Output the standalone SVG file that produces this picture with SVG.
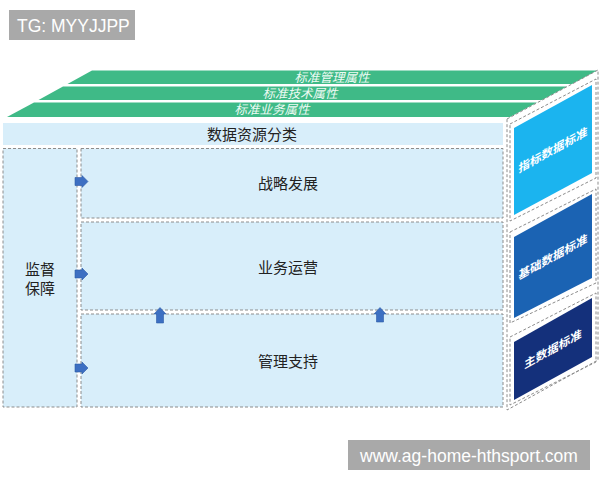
<svg xmlns="http://www.w3.org/2000/svg" width="600" height="480" viewBox="0 0 600 480">
<defs>
<style>
.dash{fill:none;stroke:#8c8c8c;stroke-width:1;stroke-dasharray:3 2}
.box{fill:#d8eefa;stroke:#8c8c8c;stroke-width:1;stroke-dasharray:3 2}
.band{fill:#3fba87}
.bt{font-family:"Noto Sans CJK SC","Noto Sans",sans-serif;font-size:12.5px;fill:#eefaf4;font-style:italic;text-anchor:middle}
.lbl{font-family:"Noto Sans CJK SC","Noto Sans",sans-serif;font-size:15px;fill:#222222;text-anchor:middle}
.st{font-family:"Noto Sans CJK SC","Noto Sans",sans-serif;font-size:11.5px;font-weight:bold;fill:#ffffff;text-anchor:middle}
.arr{fill:#3d6fc2;stroke:#2d5aa6;stroke-width:0.6}
.wm{font-family:"Liberation Sans",Arial,sans-serif;fill:#ffffff}
</style>
</defs>
<rect width="600" height="480" fill="#ffffff"/>

<g id="tg">
<rect x="9" y="10" width="126" height="30" fill="#a9a9a9"/>
<text class="wm" x="17" y="31.5" font-size="17.5">TG: MYYJJPP</text>
</g>

<g id="bands">
<polygon class="band" points="92,70.5 597,70.5 572,84 67.5,84"/>
<text class="bt" x="332" y="81.5">标准管理属性</text>
<polygon class="band" points="63,86.5 567,86.5 542,100 38.5,100"/>
<text class="bt" x="300" y="97.5">标准技术属性</text>
<polygon class="band" points="34,102.5 537,102.5 510,117 7,117"/>
<text class="bt" x="272" y="114">标准业务属性</text>
</g>

<g id="classify">
<rect x="3" y="123" width="500" height="22" fill="#d8eefa"/>
<text class="lbl" x="252" y="139.5">数据资源分类</text>
</g>

<g id="supervise">
<rect class="box" x="3" y="148.5" width="74" height="258.5"/>
<text class="lbl" x="40" y="275">监督</text>
<text class="lbl" x="40" y="294">保障</text>
</g>

<g id="strategy">
<rect class="box" x="81" y="148.5" width="422" height="69.5"/>
<text class="lbl" x="288" y="189">战略发展</text>
</g>

<g id="operation">
<rect class="box" x="81" y="222" width="422" height="88"/>
<text class="lbl" x="288" y="273">业务运营</text>
</g>

<g id="management">
<rect class="box" x="81" y="314" width="422" height="93"/>
<text class="lbl" x="288" y="367">管理支持</text>
</g>

<g id="side">
<polygon points="507,119 598,70 598,360 507,410" fill="#ffffff" class="dash"/>
</g>

<g id="indicator">
<polygon class="dash" points="510,124 596,79 596,178 510,221"/>
<polygon points="514,128 592,85 592,173 514,215" fill="#1bb4ef"/>
<text class="st" transform="translate(553,154) skewY(-29)">指标数据标准</text>
</g>

<g id="basic">
<polygon class="dash" points="510,232 596,189 596,283 510,323"/>
<polygon points="514,237 592,194 592,278 514,318" fill="#1b63b3"/>
<text class="st" transform="translate(553,261) skewY(-29)">基础数据标准</text>
</g>

<g id="master">
<polygon class="dash" points="510,337 596,293 596,362 510,405"/>
<polygon points="514,342 592,298 592,357 514,400" fill="#14307b"/>
<text class="st" transform="translate(553,353) skewY(-29)">主数据标准</text>
</g>

<g id="connectors">
<polygon class="arr" points="75,177.5 82,177.5 82,175.5 88,181.5 82,187.5 82,185.5 75,185.5"/>
<polygon class="arr" points="75,270 82,270 82,268 88,274 82,280 82,278 75,278"/>
<polygon class="arr" points="75,364 82,364 82,362 88,368 82,374 82,372 75,372"/>
<polygon class="arr" points="160,307.5 166,314 163.5,314 163.5,323 156.5,323 156.5,314 154,314"/>
<polygon class="arr" points="380,307.5 386,314 383.5,314 383.5,322 376.5,322 376.5,314 374,314"/>
</g>

<g id="watermark">
<rect x="348" y="440" width="242" height="30" fill="#a9a9a9"/>
<text class="wm" x="469" y="461.5" font-size="17.5" text-anchor="middle">www.ag-home-hthsport.com</text>
</g>
</svg>
